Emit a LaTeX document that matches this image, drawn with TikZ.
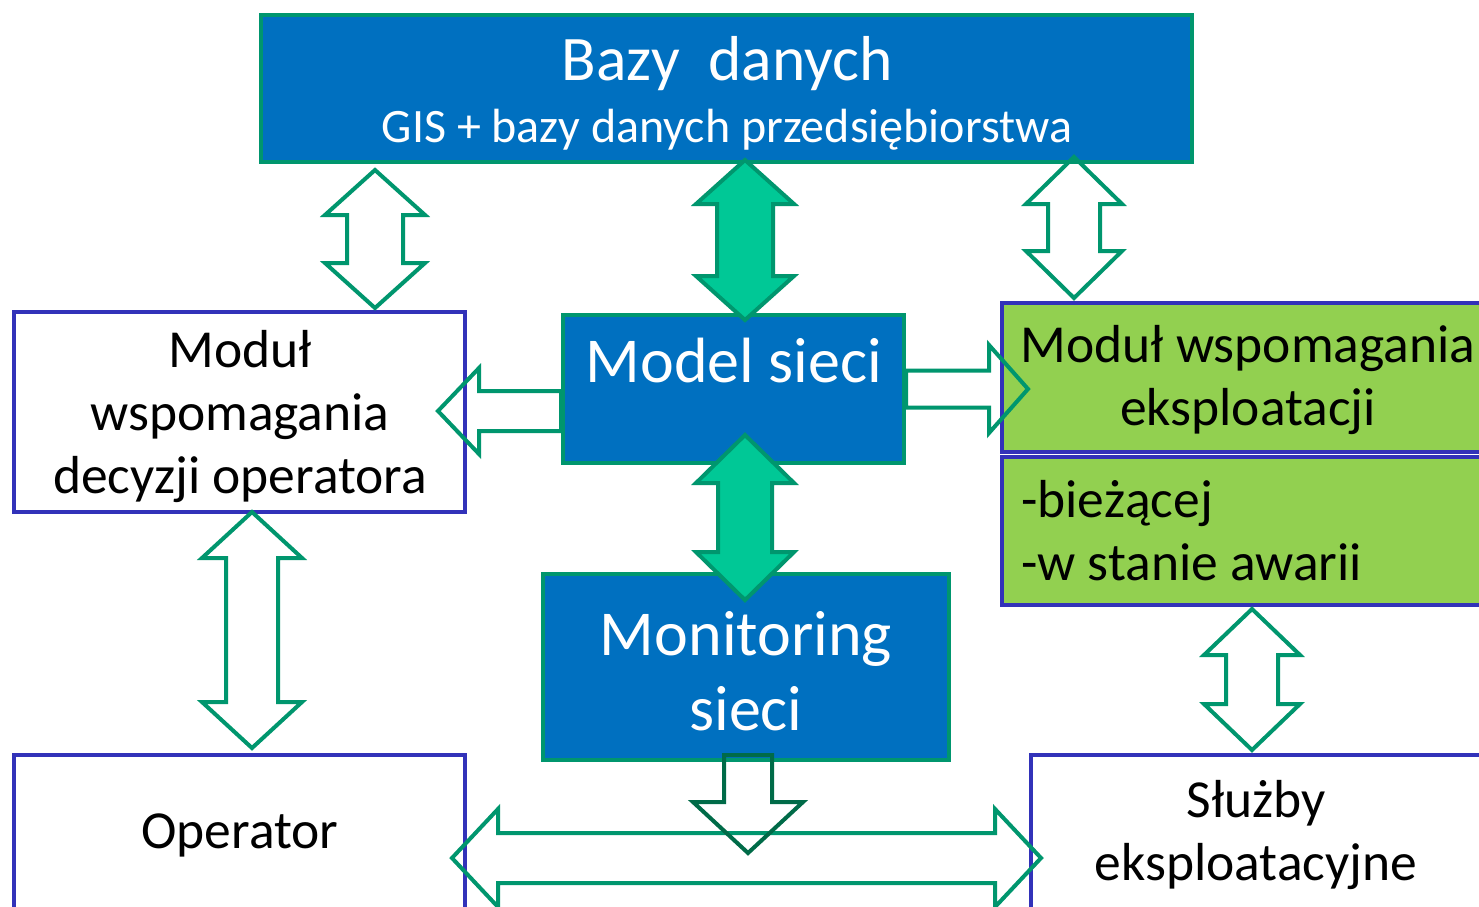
\documentclass[tikz,border=0pt]{standalone}
\usepackage{fontspec}
\setmainfont{Carlito}
\usetikzlibrary{calc}
\definecolor{bfill}{HTML}{0070C0}
\definecolor{gline}{RGB}{0,150,110}
\definecolor{tfill}{RGB}{0,200,150}
\definecolor{pline}{RGB}{50,50,185}
\definecolor{lime}{HTML}{92D050}
\definecolor{dgreen}{RGB}{0,107,72}
% vertical double arrow: #2 top tip, #3 bottom tip, #4 shaft half, #5 head half, #6 head length
\newcommand\vdarr[6][]{\draw[#1] let \p1=(#2),\p2=(#3) in
 (\x1,\y1) -- (\x1+#5pt,\y1-#6pt) -- (\x1+#4pt,\y1-#6pt) -- (\x1+#4pt,\y2+#6pt) -- (\x1+#5pt,\y2+#6pt) -- (\x1,\y2)
 -- (\x1-#5pt,\y2+#6pt) -- (\x1-#4pt,\y2+#6pt) -- (\x1-#4pt,\y1-#6pt) -- (\x1-#5pt,\y1-#6pt) -- cycle;}
% horizontal double arrow: #2 left tip, #3 right tip
\newcommand\hdarr[6][]{\draw[#1] let \p1=(#2),\p2=(#3) in
 (\x1,\y1) -- (\x1+#6pt,\y1+#5pt) -- (\x1+#6pt,\y1+#4pt) -- (\x2-#6pt,\y1+#4pt) -- (\x2-#6pt,\y1+#5pt) -- (\x2,\y1)
 -- (\x2-#6pt,\y1-#5pt) -- (\x2-#6pt,\y1-#4pt) -- (\x1+#6pt,\y1-#4pt) -- (\x1+#6pt,\y1-#5pt) -- cycle;}
% single arrow right: #2 tail, #3 tip
\newcommand\rarr[6][]{\draw[#1] let \p1=(#2),\p2=(#3) in
 (\x1,\y1+#4pt) -- (\x2-#6pt,\y1+#4pt) -- (\x2-#6pt,\y1+#5pt) -- (\x2,\y1) -- (\x2-#6pt,\y1-#5pt) -- (\x2-#6pt,\y1-#4pt) -- (\x1,\y1-#4pt) -- cycle;}
% single arrow left: #2 tail, #3 tip
\newcommand\larr[6][]{\draw[#1] let \p1=(#2),\p2=(#3) in
 (\x1,\y1+#4pt) -- (\x2+#6pt,\y1+#4pt) -- (\x2+#6pt,\y1+#5pt) -- (\x2,\y1) -- (\x2+#6pt,\y1-#5pt) -- (\x2+#6pt,\y1-#4pt) -- (\x1,\y1-#4pt) -- cycle;}
% single arrow down: #2 tail, #3 tip
\newcommand\darr[6][]{\draw[#1] let \p1=(#2),\p2=(#3) in
 (\x1-#4pt,\y1) -- (\x1+#4pt,\y1) -- (\x1+#4pt,\y2+#6pt) -- (\x1+#5pt,\y2+#6pt) -- (\x1,\y2) -- (\x1-#5pt,\y2+#6pt) -- (\x1-#4pt,\y2+#6pt) -- cycle;}
\tikzset{
 bluebox/.style={draw=gline, fill=bfill, line width=4pt, rectangle, inner sep=0pt},
 whitebox/.style={draw=pline, fill=white, line width=4pt, rectangle, inner sep=0pt},
 limebox/.style={draw=pline, fill=lime, line width=4pt, rectangle, inner sep=0pt},
 btext/.style={text=white, anchor=base, align=center, inner sep=0pt, font=\fontsize{64}{75}\selectfont},
 ktext/.style={text=black, anchor=base, align=center, inner sep=0pt, font=\fontsize{53.5}{63}\selectfont},
 oarrow/.style={draw=gline, line width=4pt, miter limit=10},
 farrow/.style={draw=gline, fill=tfill, line width=4pt, miter limit=10},
 darrow/.style={draw=dgreen, line width=4pt, miter limit=10},
}
\begin{document}
\begin{tikzpicture}[x=1pt,y=-1pt]
\useasboundingbox (0,0) rectangle (1479,906);
\fill[white] (0,0) rectangle (1479,906);
% boxes
\node[bluebox, minimum width=931, minimum height=147] (bazy) at (726.5,88.5) {};
\node[whitebox, minimum width=451, minimum height=200] (mdo) at (239,411.5) {};
\node[bluebox, minimum width=341, minimum height=148] (model) at (733.5,389) {};
\node[limebox, minimum width=498, minimum height=149] (mwe) at (1251,377.5) {};
\node[limebox, minimum width=498, minimum height=148] (mwe2) at (1251,531) {};
\node[bluebox, minimum width=406, minimum height=186] (mon) at (746,667) {};
\node[whitebox, minimum width=451, minimum height=165] (op) at (239,837) {};
\node[whitebox, minimum width=469, minimum height=165] (sl) at (1265,837) {};
% texts (multi-line nodes anchored at the baseline of their last line)
\node[btext, font=\fontsize{63.5}{75}\selectfont] (tbazy) at (727,80) {Bazy\ \ danych};
\node[btext, font=\fontsize{48}{56}\selectfont] (tgis) at (727,142) {GIS + bazy danych przedsiębiorstwa};
\node[btext] (tmodel) at (734,382) {Model sieci};
\node[ktext] (tmdo) at (240,493) {Moduł\\wspomagania\\decyzji operatora};
\node[ktext] (tmwe) at (1248,425) {Moduł wspomagania\\eksploatacji};
\node[ktext, anchor=base west, align=left] (tmwe2) at (1021,580) {-bieżącej\\-w stanie awarii};
\node[btext] (tmon) at (746,730) {Monitoring\\sieci};
\node[ktext] (top) at (240,848) {Operator};
\node[ktext] (tsl) at (1256,880) {Służby\\eksploatacyjne};
% arrow end coordinates
\coordinate (a1t) at (375,170); \coordinate (a1b) at (375,308);
\coordinate (a2t) at (745,160); \coordinate (a2b) at (745,320);
\coordinate (a3t) at (1074,157); \coordinate (a3b) at (1074,298);
\coordinate (a4s) at (561,411); \coordinate (a4e) at (438,411);
\coordinate (a5s) at (906,389); \coordinate (a5e) at (1028,389);
\coordinate (a6t) at (745,435); \coordinate (a6b) at (745,600);
\coordinate (a7t) at (252,512); \coordinate (a7b) at (252,748);
\coordinate (a8t) at (1252,609); \coordinate (a8b) at (1252,750);
\coordinate (a9s) at (748,755); \coordinate (a9e) at (748,853);
\coordinate (a10l) at (452,858); \coordinate (a10r) at (1041,858);
% arrows
\vdarr[oarrow]{a1t}{a1b}{28}{50}{45}
\vdarr[farrow]{a2t}{a2b}{28}{49}{44}
\vdarr[oarrow]{a3t}{a3b}{26}{48}{47}
\larr[oarrow]{a4s}{a4e}{20}{43}{41}
\rarr[oarrow]{a5s}{a5e}{18.5}{44}{39}
\vdarr[farrow]{a6t}{a6b}{27}{49}{48}
\vdarr[oarrow]{a7t}{a7b}{26}{50}{46}
\vdarr[oarrow]{a8t}{a8b}{26}{48}{46}
\hdarr[oarrow]{a10l}{a10r}{25}{49}{46}
\darr[darrow]{a9s}{a9e}{24}{55}{51}
\end{tikzpicture}
\end{document}
